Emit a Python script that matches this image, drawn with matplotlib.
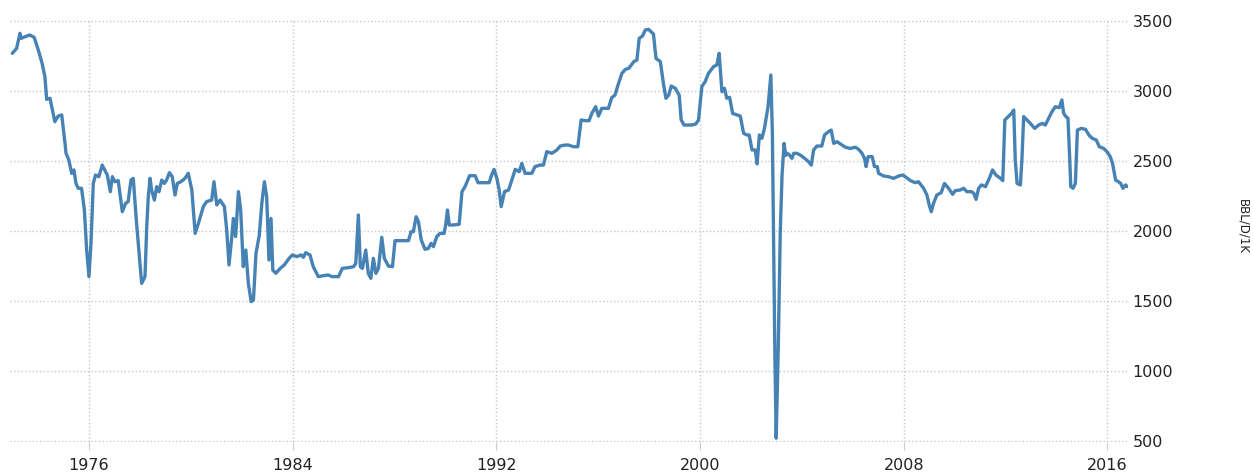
import matplotlib.pyplot as plt

# decimal year / production (BBL/D/1K)
years = [
    1972.99, 1973.16, 1973.29, 1973.33, 1973.49, 1973.68, 1973.85, 1974.01, 1974.16, 1974.27,
    1974.34, 1974.47, 1974.66, 1974.79, 1974.93, 1975.03, 1975.10, 1975.21, 1975.32, 1975.41,
    1975.49, 1975.58, 1975.71, 1975.82, 1975.91, 1976.00, 1976.08, 1976.17, 1976.26, 1976.39,
    1976.52, 1976.65, 1976.72, 1976.84, 1976.92, 1977.02, 1977.15, 1977.31, 1977.44, 1977.54,
    1977.65, 1977.74, 1977.87, 1978.07, 1978.20, 1978.27, 1978.33, 1978.40, 1978.46, 1978.57,
    1978.66, 1978.75, 1978.86, 1978.96, 1979.05, 1979.16, 1979.27, 1979.38, 1979.47, 1979.61,
    1979.77, 1979.90, 1980.04, 1980.17, 1980.30, 1980.49, 1980.62, 1980.82, 1980.91, 1981.02,
    1981.15, 1981.32, 1981.41, 1981.50, 1981.61, 1981.67, 1981.76, 1981.87, 1981.96, 1982.06,
    1982.16, 1982.26, 1982.37, 1982.46, 1982.56, 1982.69, 1982.79, 1982.89, 1982.98, 1983.07,
    1983.15, 1983.22, 1983.34, 1983.51, 1983.67, 1983.86, 1983.99, 1984.16, 1984.33, 1984.42,
    1984.51, 1984.68, 1984.81, 1984.91, 1985.01, 1985.21, 1985.40, 1985.54, 1985.80, 1985.95,
    1986.19, 1986.39, 1986.48, 1986.58, 1986.66, 1986.74, 1986.87, 1986.97, 1987.07, 1987.17,
    1987.27, 1987.37, 1987.50, 1987.60, 1987.76, 1987.92, 1988.02, 1988.22, 1988.55, 1988.65,
    1988.74, 1988.85, 1988.94, 1989.05, 1989.20, 1989.33, 1989.44, 1989.53, 1989.66, 1989.79,
    1989.95, 1990.02, 1990.08, 1990.15, 1990.32, 1990.54, 1990.65, 1990.77, 1990.95, 1991.17,
    1991.28, 1991.50, 1991.72, 1991.80, 1991.91, 1992.02, 1992.11, 1992.19, 1992.32, 1992.48,
    1992.63, 1992.74, 1992.90, 1993.00, 1993.13, 1993.39, 1993.52, 1993.72, 1993.85, 1993.98,
    1994.18, 1994.38, 1994.51, 1994.70, 1994.83, 1995.03, 1995.20, 1995.33, 1995.49, 1995.64,
    1995.75, 1995.90, 1996.01, 1996.14, 1996.40, 1996.53, 1996.66, 1996.80, 1996.93, 1997.07,
    1997.20, 1997.40, 1997.52, 1997.61, 1997.74, 1997.85, 1997.98, 1998.17, 1998.27, 1998.44,
    1998.57, 1998.66, 1998.77, 1998.87, 1999.03, 1999.18, 1999.26, 1999.37, 1999.68, 1999.83,
    1999.94, 2000.07, 2000.20, 2000.33, 2000.53, 2000.66, 2000.75, 2000.86, 2000.96, 2001.05,
    2001.16, 2001.28, 2001.45, 2001.58, 2001.71, 2001.84, 2001.93, 2002.04, 2002.17, 2002.24,
    2002.33, 2002.43, 2002.53, 2002.67, 2002.78, 2002.84, 2002.89, 2002.94, 2002.99, 2003.07,
    2003.15, 2003.22, 2003.30, 2003.36,
    2003.42, 2003.51, 2003.61, 2003.68, 2003.80, 2003.93, 2004.11, 2004.26, 2004.37, 2004.46,
    2004.59, 2004.78, 2004.89, 2005.05, 2005.15, 2005.25, 2005.38, 2005.58, 2005.71, 2005.90,
    2006.10, 2006.23, 2006.36, 2006.46, 2006.52, 2006.60, 2006.76, 2006.85, 2006.96, 2007.01,
    2007.21, 2007.40, 2007.60, 2007.80, 2007.96, 2008.06, 2008.26, 2008.45, 2008.58, 2008.78,
    2008.91, 2009.00, 2009.08, 2009.17, 2009.30, 2009.47, 2009.60, 2009.76, 2009.92, 2010.02,
    2010.22, 2010.35, 2010.48, 2010.66, 2010.75, 2010.84, 2010.94, 2011.05, 2011.21, 2011.36,
    2011.49, 2011.62, 2011.80, 2011.89, 2011.97, 2012.10, 2012.23, 2012.32, 2012.38, 2012.45,
    2012.58, 2012.64, 2012.71, 2012.84, 2012.97, 2013.14, 2013.30, 2013.45, 2013.56, 2013.69,
    2013.82, 2013.95, 2014.11, 2014.21, 2014.28, 2014.37, 2014.45, 2014.52, 2014.56, 2014.65,
    2014.74, 2014.82, 2014.98, 2015.14, 2015.27, 2015.40, 2015.56, 2015.68, 2015.85, 2015.98,
    2016.11, 2016.20, 2016.32, 2016.43, 2016.52, 2016.61, 2016.71, 2016.78,
]
production = [
    3269, 3305, 3412, 3376, 3388, 3400, 3383, 3293, 3198, 3102,
    2940, 2948, 2781, 2821, 2829, 2674, 2555, 2507, 2412, 2436,
    2340, 2305, 2305, 2150, 1864, 1674, 1912, 2340, 2400, 2388,
    2471, 2424, 2400, 2281, 2388, 2352, 2360, 2138, 2198, 2210,
    2364, 2376, 2055, 1626, 1674, 2031, 2245, 2376, 2293, 2221,
    2317, 2281, 2364, 2340, 2364, 2417, 2388, 2257, 2340, 2352,
    2376, 2412, 2293, 1983, 2055, 2174, 2210, 2221, 2352, 2186,
    2221, 2174, 2007, 1757, 1960, 2090, 1960, 2281, 2150, 1745,
    1864, 1626, 1495, 1507, 1840, 1971, 2198, 2352, 2245, 1793,
    2090, 1721, 1698, 1733, 1757, 1805, 1829, 1817, 1829, 1812,
    1845, 1829, 1745, 1710, 1674, 1681, 1686, 1674, 1674, 1733,
    1738, 1745, 1769, 2114, 1745, 1733, 1864, 1698, 1662, 1805,
    1698, 1733, 1955, 1805, 1750, 1745, 1931, 1931, 1931, 1995,
    1995, 2102, 2067, 1936, 1869, 1876, 1912, 1888, 1960, 1983,
    1983, 2055, 2150, 2043, 2043, 2048, 2281, 2317, 2395, 2395,
    2345, 2345, 2345, 2393, 2440, 2376, 2293, 2174, 2281, 2293,
    2376, 2440, 2424, 2483, 2412, 2412, 2460, 2471, 2471, 2567,
    2555, 2579, 2607, 2614, 2614, 2602, 2602, 2793, 2788, 2788,
    2840, 2888, 2821, 2876, 2876, 2952, 2971, 3055, 3126, 3155,
    3162, 3210, 3221, 3376, 3393, 3436, 3440, 3407, 3233, 3210,
    3043, 2948, 2971, 3036, 3019, 2971, 2793, 2757, 2757, 2764,
    2793, 3031, 3067, 3126, 3174, 3186, 3269, 2995, 3019, 2948,
    2955, 2840, 2829, 2821, 2698, 2686, 2686, 2579, 2579, 2479,
    2686, 2662, 2733, 2888, 3114, 2700, 1900, 1100, 520, 1150,
    1990, 2400, 2626, 2540,
    2555, 2543, 2519, 2555, 2555, 2543, 2519, 2495, 2471, 2579,
    2607, 2607, 2686, 2710, 2721, 2626, 2638, 2614, 2598, 2590,
    2598, 2583, 2555, 2519, 2460, 2531, 2531, 2460, 2460, 2412,
    2393, 2388, 2376, 2393, 2400, 2388, 2360, 2345, 2352, 2305,
    2257, 2186, 2138, 2198, 2257, 2274, 2340, 2305, 2262, 2288,
    2293, 2305, 2281, 2281, 2269, 2226, 2305, 2329, 2317, 2376,
    2436, 2400, 2376, 2360, 2793, 2817, 2840, 2864, 2507, 2340,
    2329, 2507, 2817, 2793, 2769, 2733, 2757, 2769, 2757, 2805,
    2852, 2888, 2881, 2936, 2840, 2817, 2805, 2507, 2317, 2305,
    2340, 2721, 2733, 2726, 2686, 2662, 2650, 2602, 2590, 2567,
    2531, 2483, 2364, 2352, 2340, 2305, 2329, 2317,
]
tick_years = [1976, 1984, 1992, 2000, 2008, 2016]
y_ticks = [500, 1000, 1500, 2000, 2500, 3000, 3500]

fig = plt.figure(figsize=(12.53, 4.76), dpi=100)
ax = fig.add_axes([0.008, 0.0706, 0.8925, 0.8882])

ax.plot(years, production, color='#4682b4', linewidth=2.4,
        solid_joinstyle='round', solid_capstyle='round')

ax.set_xlim(1972.9, 2016.82)
ax.set_ylim(490, 3510)

ax.set_xticks(tick_years)
ax.set_xticklabels([str(y) for y in tick_years], fontsize=11.5, color='#222222')
ax.set_yticks(y_ticks)
ax.set_yticklabels([str(v) for v in y_ticks], fontsize=11.5, color='#222222')

ax.yaxis.tick_right()
ax.tick_params(axis='y', length=0, pad=3)
ax.tick_params(axis='x', length=6, color='#cccccc', pad=5)

ax.grid(True, color='#c8c8c8', linestyle=':', linewidth=1)
for s in ax.spines.values():
    s.set_visible(False)

fig.text(0.992, 0.525, 'BBL/D/1K', rotation=270, fontsize=8.5, color='#222222',
         ha='center', va='center')

fig.savefig('out.png', dpi=100)
